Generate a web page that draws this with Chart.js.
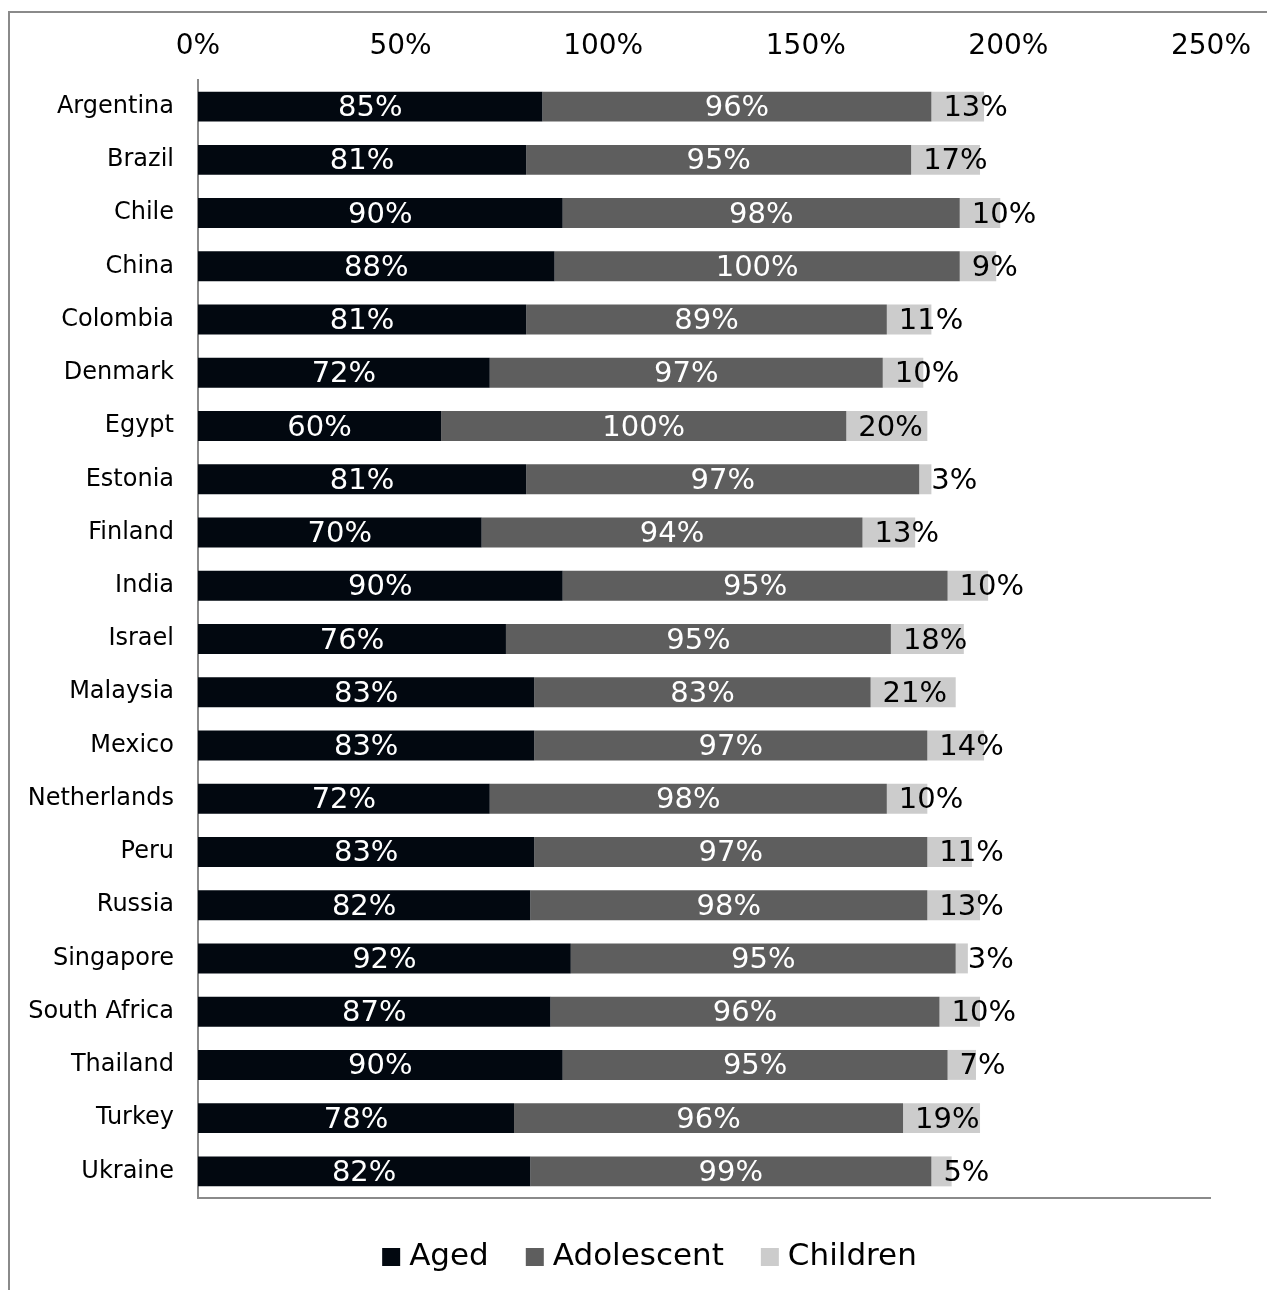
<!DOCTYPE html>
<html>
<head>
<meta charset="utf-8">
<script src="https://cdn.jsdelivr.net/npm/chart.js@4/dist/chart.umd.min.js"></script>
<style>
  html, body { margin: 0; padding: 0; background: #ffffff; }
  #wrap { width: 1267px; height: 1290px; position: relative; }
</style>
</head>
<body>
<div id="wrap"><canvas id="c" width="1267" height="1290"></canvas></div>
<script>
// Share of each age group, per country (percent)
const countries = ['Argentina', 'Brazil', 'Chile', 'China', 'Colombia', 'Denmark', 'Egypt',
  'Estonia', 'Finland', 'India', 'Israel', 'Malaysia', 'Mexico', 'Netherlands', 'Peru',
  'Russia', 'Singapore', 'South Africa', 'Thailand', 'Turkey', 'Ukraine'];
const aged        = [85, 81, 90, 88, 81, 72, 60, 81, 70, 90, 76, 83, 83, 72, 83, 82, 92, 87, 90, 78, 82];
const adolescent  = [96, 95, 98, 100, 89, 97, 100, 97, 94, 95, 95, 83, 97, 98, 97, 98, 95, 96, 95, 96, 99];
const children    = [13, 17, 10, 9, 11, 10, 20, 3, 13, 10, 18, 21, 14, 10, 11, 13, 3, 10, 7, 19, 5];
const seriesNames = ['Aged', 'Adolescent', 'Children'];
const xTicks      = [0, 50, 100, 150, 200, 250];

const FONT = "'DejaVu Sans', Verdana, sans-serif";
const AXIS_GREY = '#8a8a8a';

// Light frame around the whole chart (only its top and left edges fall on the canvas)
const framePlugin = {
  id: 'frame',
  beforeDraw(chart) {
    const ctx = chart.ctx;
    ctx.save();
    ctx.strokeStyle = AXIS_GREY;
    ctx.lineWidth = 2;
    ctx.strokeRect(9, 12, 1400, 1400);
    ctx.restore();
  }
};

// Value labels on each bar segment
const valueLabels = {
  id: 'valueLabels',
  afterDatasetsDraw(chart) {
    const ctx = chart.ctx;
    ctx.save();
    ctx.font = '29px ' + FONT;
    ctx.textBaseline = 'middle';
    chart.data.datasets.forEach((ds, di) => {
      const meta = chart.getDatasetMeta(di);
      meta.data.forEach((bar, i) => {
        const text = ds.data[i] + '%';
        const y = bar.y + 2;
        if (di < 2) {
          ctx.fillStyle = '#ffffff';
          ctx.textAlign = 'center';
          ctx.fillText(text, (bar.x + bar.base) / 2, y);
        } else {
          ctx.fillStyle = '#000000';
          ctx.textAlign = 'left';
          ctx.fillText(text, bar.base + 12, y);
        }
      });
    });
    ctx.restore();
  }
};

// Legend row under the plot: square swatch followed by the series name
const legendRow = {
  id: 'legendRow',
  afterDraw(chart) {
    const ctx = chart.ctx;
    const box = 18, gap = 9, itemGap = 37;
    ctx.save();
    ctx.font = '31px ' + FONT;
    ctx.textBaseline = 'middle';
    ctx.textAlign = 'left';
    const items = chart.data.datasets.map(ds => ({
      label: ds.label, color: ds.backgroundColor, w: ctx.measureText(ds.label).width
    }));
    const total = items.reduce((s, it) => s + box + gap + it.w, 0) + itemGap * (items.length - 1);
    const cy = chart.chartArea.bottom + 58;
    let x = chart.width / 2 + 16 - total / 2;
    items.forEach(it => {
      ctx.fillStyle = it.color;
      ctx.fillRect(x, cy - box / 2 + 1, box, box);
      x += box + gap;
      ctx.fillStyle = '#000000';
      ctx.fillText(it.label, x, cy + 1);
      x += it.w + itemGap;
    });
    ctx.restore();
  }
};

const colors = ['#020810', '#5e5e5e', '#cccccc'];
const values = [aged, adolescent, children];

new Chart(document.getElementById('c'), {
  type: 'bar',
  data: {
    labels: countries,
    datasets: seriesNames.map((name, k) => ({
      label: name,
      data: values[k],
      backgroundColor: colors[k],
      borderWidth: 0,
      categoryPercentage: 1,
      barPercentage: 0.5625
    }))
  },
  options: {
    indexAxis: 'y',
    responsive: false,
    animation: false,
    devicePixelRatio: 1,
    layout: { padding: { top: 20, right: 53, bottom: 92, left: 0 } },
    scales: {
      x: {
        position: 'top',
        stacked: true,
        min: 0,
        max: 250,
        afterBuildTicks(scale) { scale.ticks = xTicks.map(v => ({ value: v })); },
        afterFit(scale) { scale.height = 60; },
        grid: { display: false, drawTicks: false },
        border: { display: false },
        ticks: {
          padding: 16,
          color: '#000000',
          font: { family: FONT, size: 28 },
          maxRotation: 0,
          callback: v => v + '%'
        }
      },
      xBase: {
        position: 'bottom',
        axis: 'x',
        min: 0,
        max: 250,
        afterFit(scale) { scale.height = 0; },
        grid: { display: false, drawTicks: false },
        border: { display: true, color: AXIS_GREY, width: 2 },
        ticks: { display: false }
      },
      y: {
        stacked: true,
        afterFit(scale) { scale.width = 198; },
        grid: { display: false, drawTicks: false },
        border: { display: true, color: AXIS_GREY, width: 2 },
        ticks: {
          padding: 24,
          color: '#000000',
          font: { family: FONT, size: 24 },
          autoSkip: false
        }
      }
    },
    plugins: {
      legend: { display: false },
      tooltip: { enabled: false }
    }
  },
  plugins: [framePlugin, valueLabels, legendRow]
});
</script>
</body>
</html>
